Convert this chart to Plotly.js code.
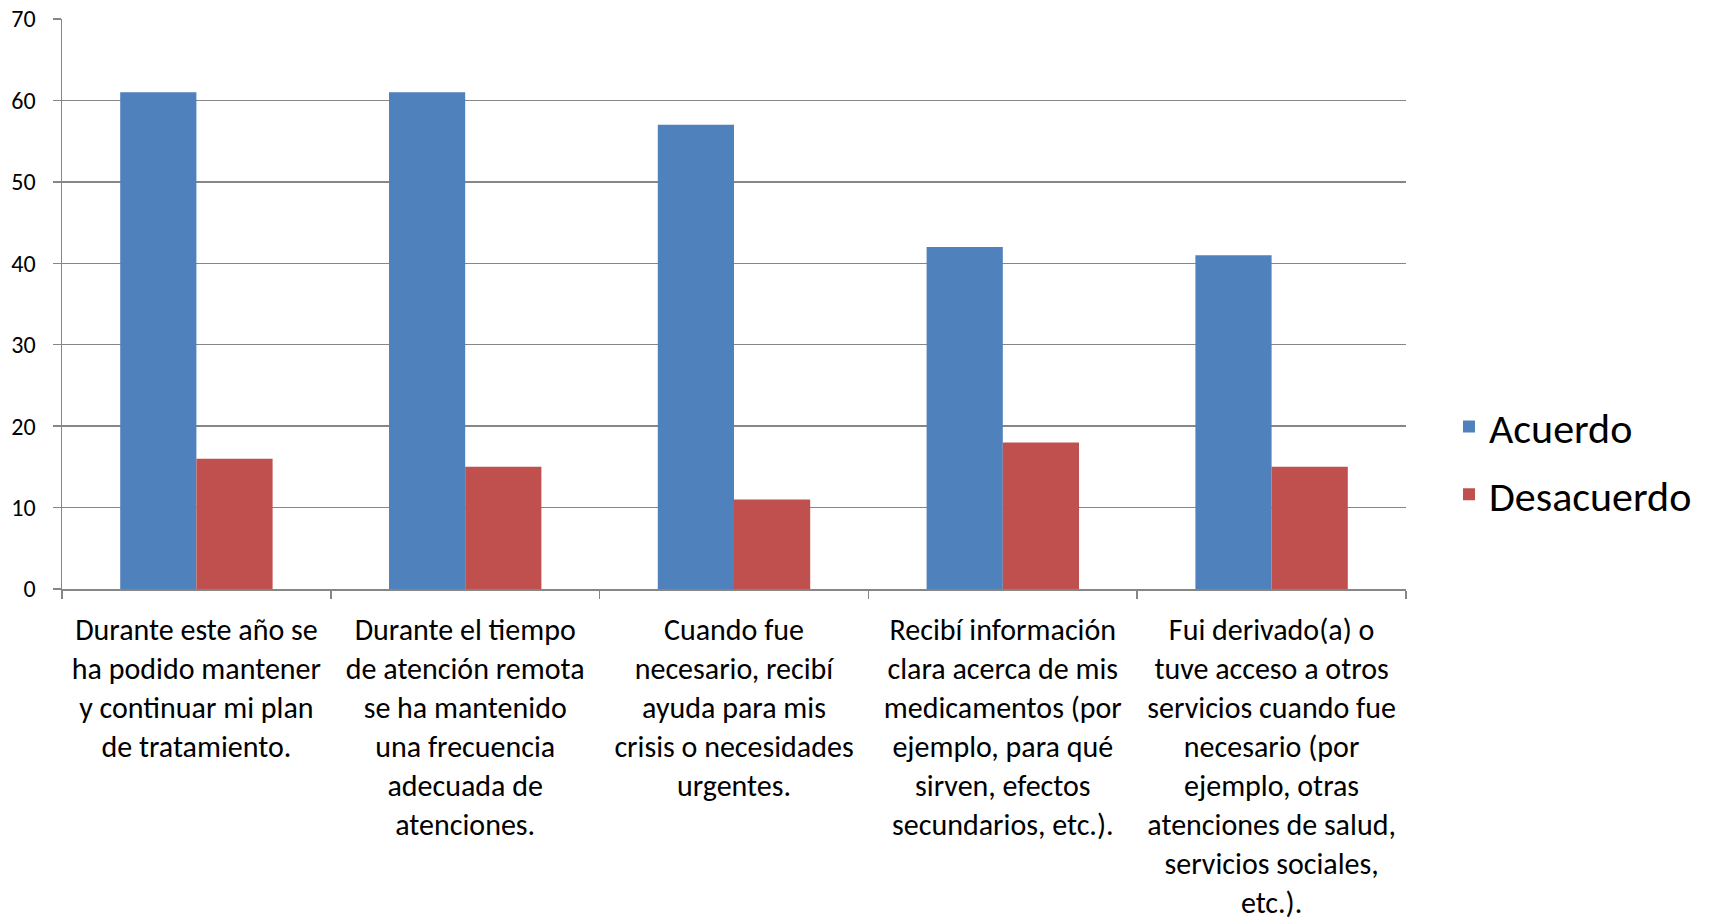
<!DOCTYPE html>
<html>
<head>
<meta charset="utf-8">
<script src="https://cdn.plot.ly/plotly-3.0.1.min.js"></script>
<style>html,body{margin:0;padding:0;background:#fff;}#chart{width:1709px;height:920px;}</style>
</head>
<body>
<div id="chart"></div>
<script>
const categories = [
  "Durante este año se<br>ha podido mantener<br>y continuar mi plan<br>de tratamiento.",
  "Durante el tiempo<br>de atención remota<br>se ha mantenido<br>una frecuencia<br>adecuada de<br>atenciones.",
  "Cuando fue<br>necesario, recibí<br>ayuda para mis<br>crisis o necesidades<br>urgentes.",
  "Recibí información<br>clara acerca de mis<br>medicamentos (por<br>ejemplo, para qué<br>sirven, efectos<br>secundarios, etc.).",
  "Fui derivado(a) o<br>tuve acceso a otros<br>servicios cuando fue<br>necesario (por<br>ejemplo, otras<br>atenciones de salud,<br>servicios sociales,<br>etc.)."
];
const acuerdo = [61, 61, 57, 42, 41];
const desacuerdo = [16, 15, 11, 18, 15];
const seriesNames = ["Acuerdo", "Desacuerdo"];
const yTicks = [0, 10, 20, 30, 40, 50, 60, 70];

const FONT = "Carlito, Calibri, Lato, 'Open Sans', sans-serif";
const GRID = "#868686";

const data = [
  {type: "bar", name: seriesNames[0], legendgroup: "a", x: categories, y: acuerdo, marker: {color: "#4F81BD"}},
  {type: "bar", name: seriesNames[1], legendgroup: "b", x: categories, y: desacuerdo, marker: {color: "#C0504D"}}
];

const layout = {
  width: 1709, height: 920,
  margin: {l: 62, r: 303, t: 18.5, b: 331, pad: 0},
  paper_bgcolor: "#ffffff", plot_bgcolor: "#ffffff",
  font: {family: FONT, color: "#000000"},
  barmode: "group", bargap: 0.433, bargroupgap: 0,
  showlegend: true,
  legend: {
    x: 1.032, y: 0.225, xanchor: "left", yanchor: "middle",
    font: {family: FONT, size: 42, color: "#000000"},
    bgcolor: "rgba(0,0,0,0)", traceorder: "grouped", tracegroupgap: 10
  },
  xaxis: {
    type: "category", tickangle: 0,
    showline: true, linecolor: GRID, linewidth: 1.5,
    ticks: "outside", tickson: "boundaries", ticklen: 8, tickcolor: GRID, tickwidth: 1.5,
    showgrid: false,
    tickfont: {family: FONT, size: 30, color: "#000000"},
    ticklabelstandoff: 13
  },
  yaxis: {
    range: [0, 70], tickvals: yTicks, ticktext: yTicks.map(String),
    showline: true, linecolor: GRID, linewidth: 1.5,
    ticks: "outside", ticklen: 8, tickcolor: GRID, tickwidth: 1.5,
    showgrid: true, gridcolor: GRID, gridwidth: 1.5,
    zeroline: false,
    tickfont: {family: FONT, size: 24, color: "#000000"},
    ticklabelstandoff: 12
  }
};

Plotly.newPlot("chart", data, layout, {displayModeBar: false, staticPlot: true});
</script>
</body>
</html>
